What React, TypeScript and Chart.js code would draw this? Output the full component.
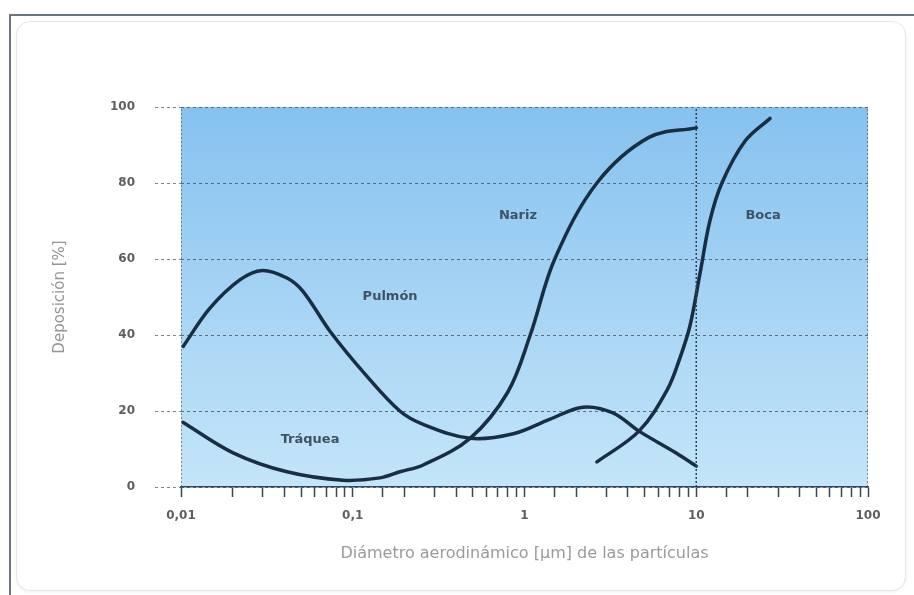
import React, { useEffect, useRef } from "react";
import { Chart, registerables } from "chart.js";
Chart.register(...registerables);

// ---- data ----
const pulmonX = [0.0103, 0.0147, 0.022, 0.0297, 0.0414, 0.0513, 0.0737, 0.119, 0.188, 0.257, 0.482, 0.86, 1.4, 2.19, 3.27, 4.64, 7.6, 10];
const pulmonY = [37, 47, 54.5, 57, 55, 51.5, 41, 29.5, 20, 16.5, 12.8, 14, 17.8, 21, 19.5, 14.7, 9, 5.5];

const narizX = [0.0103, 0.0201, 0.0414, 0.0876, 0.144, 0.188, 0.257, 0.482, 0.8, 1.08, 1.5, 2.64, 5.3, 10];
const narizY = [17, 9, 4, 1.8, 2.4, 4, 5.8, 12.8, 25, 40, 60, 80, 92, 94.5];

const bocaX = [2.64, 4.64, 6.76, 8.04, 9.2, 10.5, 12, 14.1, 19.2, 26.9];
const bocaY = [6.6, 14.7, 25.5, 34, 42.5, 56, 70, 80, 91, 97];

const dividerX = [10, 10];
const edgeLeftX = [0.01, 0.01];
const edgeRightX = [100, 100];
const dividerY = [0, 100];

const majorTicks = [0.01, 0.1, 1, 10, 100];
const majorTickLabels = ["0,01", "0,1", "1", "10", "100"];

const regionNames = ["Pulmón", "Nariz", "Boca", "Tráquea"];
const regionX = [0.165, 0.916, 24.5, 0.0564];
const regionY = [50, 71.3, 71.3, 12.4];

const xTitle = "Diámetro aerodinámico [µm] de las partículas";
const yTitle = "Deposición [%]";

const toPts = (xs: number[], ys: number[]) => xs.map((x, i) => ({ x, y: ys[i] }));

const CURVE = "#182e42";
const GRID = "rgba(70,90,110,0.85)";
const FONT = "'DejaVu Sans', sans-serif";

const bgPlugin = {
  id: "bgGradient",
  beforeDraw(chart: any) {
    const { ctx, chartArea } = chart;
    if (!chartArea) return;
    const g = ctx.createLinearGradient(0, chartArea.top, 0, chartArea.bottom);
    g.addColorStop(0, "#86c2ef");
    g.addColorStop(1, "#c4e5f9");
    ctx.save();
    ctx.fillStyle = g;
    ctx.fillRect(chartArea.left, chartArea.top, chartArea.right - chartArea.left, chartArea.bottom - chartArea.top);
    ctx.restore();
  },
};

const labelsPlugin = {
  id: "regionLabels",
  afterDatasetsDraw(chart: any) {
    const { ctx, scales } = chart;
    ctx.save();
    ctx.font = "bold 13px " + FONT;
    ctx.fillStyle = "#3e5366";
    ctx.textAlign = "center";
    ctx.textBaseline = "middle";
    regionNames.forEach((n, i) => {
      ctx.fillText(n, scales.x.getPixelForValue(regionX[i]), scales.y.getPixelForValue(regionY[i]));
    });
    ctx.restore();
  },
};

export default function App() {
  const ref = useRef<HTMLCanvasElement>(null);
  useEffect(() => {
    if (!ref.current) return;
    const curve = (data: any) => ({
      data,
      borderColor: CURVE,
      borderWidth: 3.5,
      pointRadius: 0,
      fill: false,
      tension: 0.35,
      borderCapStyle: "round" as const,
    });
    const vline = (xs: number[], color: string) => ({
      data: toPts(xs, dividerY),
      borderColor: color,
      borderWidth: 1.5,
      borderDash: [2, 2],
      pointRadius: 0,
      fill: false,
      tension: 0,
    });
    const chart = new Chart(ref.current, {
      type: "line",
      data: {
        datasets: [
          vline(edgeLeftX, GRID),
          vline(edgeRightX, GRID),
          vline(dividerX, "#2f4458"),
          curve(toPts(pulmonX, pulmonY)),
          curve(toPts(narizX, narizY)),
          curve(toPts(bocaX, bocaY)),
        ],
      },
      options: {
        animation: false,
        responsive: false,
        devicePixelRatio: 1,
        layout: { padding: { top: 107, right: 46, left: 0, bottom: 0 } },
        plugins: { legend: { display: false }, tooltip: { enabled: false } },
        scales: {
          x: {
            type: "logarithmic",
            min: 0.01,
            max: 100,
            afterFit: (s: any) => {
              s.height = 108;
            },
            grid: {
              display: true,
              drawOnChartArea: false,
              drawTicks: true,
              tickLength: 10,
              tickColor: "#33475a",
              tickWidth: 1.5,
            },
            border: { display: true, color: "#33475a", width: 1.5 },
            ticks: {
              autoSkip: false,
              maxRotation: 0,
              padding: 12,
              color: "#5e5e5e",
              font: { family: FONT, size: 12, weight: "bold" },
              callback: (v: any) => {
                const idx = majorTicks.findIndex((m) => Math.abs(Math.log10(Number(v)) - Math.log10(m)) < 1e-6);
                return idx >= 0 ? majorTickLabels[idx] : "";
              },
            },
            title: {
              display: true,
              text: xTitle,
              color: "#9a9a9a",
              font: { family: FONT, size: 16 },
              padding: { top: 0, bottom: 32 },
            },
          },
          y: {
            min: 0,
            max: 100,
            afterFit: (s: any) => {
              s.width = 181;
            },
            ticks: {
              stepSize: 20,
              padding: 20,
              color: "#5e5e5e",
              font: { family: FONT, size: 12, weight: "bold" },
            },
            grid: {
              color: GRID,
              lineWidth: 1,
              tickLength: 26,
              tickColor: "rgba(90,100,110,0.8)",
              tickBorderDash: [3, 3],
            },
            border: { display: false, dash: [3, 3] },
            title: {
              display: true,
              text: yTitle,
              color: "#949494",
              font: { family: FONT, size: 15 },
              padding: { top: 51, bottom: 0 },
            },
          },
        },
      },
      plugins: [bgPlugin, labelsPlugin],
    });
    return () => chart.destroy();
  }, []);

  return (
    <div style={{ position: "fixed", left: 0, top: 0, width: 914, height: 595, background: "#fff", overflow: "hidden" }}>
      <div
        style={{
          position: "absolute",
          left: 9,
          top: 14,
          width: 910,
          height: 590,
          borderTop: "2px solid #6b7581",
          borderLeft: "2px solid #6b7581",
        }}
      />
      <div
        style={{
          position: "absolute",
          left: 16,
          top: 21,
          width: 888,
          height: 568,
          border: "1px solid #e6e6e6",
          borderRadius: 14,
          boxShadow: "0 1px 3px rgba(0,0,0,0.06)",
          background: "#fff",
        }}
      />
      <canvas ref={ref} width={914} height={595} style={{ position: "absolute", left: 0, top: 0 }} />
    </div>
  );
}
